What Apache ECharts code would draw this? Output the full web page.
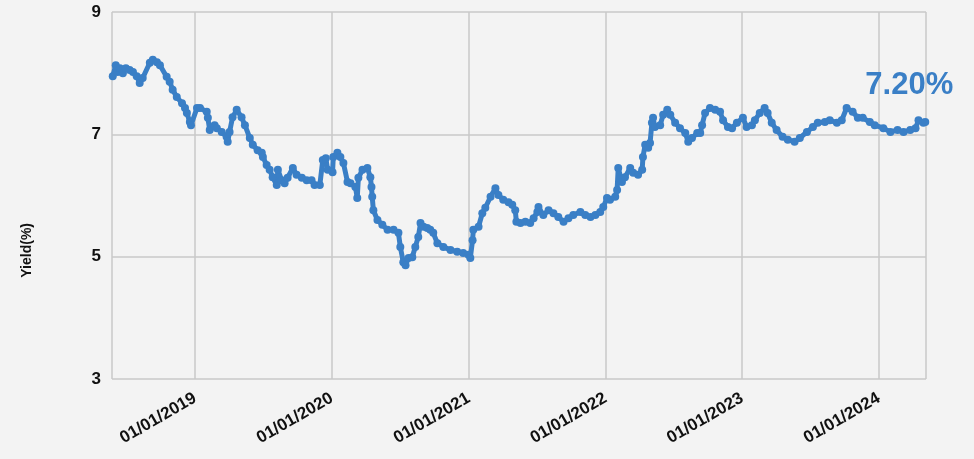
<!DOCTYPE html>
<html>
<head>
<meta charset="utf-8">
<script src="https://cdn.jsdelivr.net/npm/echarts@6/dist/echarts.min.js"></script>
<style>
html,body{margin:0;padding:0;background:#f3f3f3;}
#chart{width:974px;height:459px;}
</style>
</head>
<body>
<div id="chart"></div>
<script>
const dates = [
'2018-05-26','2018-06-03','2018-06-08','2018-06-14','2018-06-22','2018-06-30','2018-07-10','2018-07-19','2018-07-29','2018-08-06',
'2018-08-14','2018-09-02','2018-09-10','2018-09-21','2018-09-29','2018-10-17','2018-10-25','2018-11-02','2018-11-13','2018-11-27',
'2018-12-05','2018-12-10','2018-12-18','2018-12-21',
'2019-01-06','2019-01-14','2019-02-01','2019-02-04','2019-02-09','2019-02-22','2019-02-28','2019-03-13','2019-03-26','2019-03-29',
'2019-04-03','2019-04-11','2019-04-22','2019-05-05','2019-05-14','2019-05-27','2019-06-04','2019-06-17','2019-06-28','2019-07-01',
'2019-07-11','2019-07-19','2019-07-27','2019-08-07','2019-08-10','2019-08-20','2019-08-28','2019-09-05','2019-09-19','2019-09-29',
'2019-10-13','2019-10-26','2019-11-08','2019-11-16','2019-11-30','2019-12-08','2019-12-16','2019-12-21',
'2020-01-03','2020-01-05','2020-01-16','2020-01-24','2020-02-01','2020-02-12','2020-02-20','2020-03-04','2020-03-09','2020-03-12',
'2020-03-23','2020-04-05','2020-04-13','2020-04-16','2020-04-18','2020-04-21','2020-05-02','2020-05-15','2020-05-29','2020-06-14',
'2020-06-27','2020-07-02','2020-07-10','2020-07-16','2020-07-24','2020-08-03','2020-08-11','2020-08-19','2020-08-25','2020-09-02',
'2020-09-12','2020-09-20','2020-09-28','2020-10-09','2020-10-25','2020-11-13','2020-12-01','2020-12-17','2020-12-31',
'2021-01-05','2021-01-11','2021-01-13','2021-01-27','2021-02-06','2021-02-14','2021-02-28','2021-03-13','2021-03-21','2021-04-03',
'2021-04-17','2021-04-27','2021-05-05','2021-05-08','2021-05-19','2021-06-01','2021-06-14','2021-06-23','2021-07-03','2021-07-06',
'2021-07-19','2021-08-02','2021-08-15','2021-08-28','2021-09-11','2021-09-24','2021-10-07','2021-10-26','2021-11-08','2021-11-22',
'2021-12-05','2021-12-18','2021-12-26',
'2022-01-05','2022-01-13','2022-01-27','2022-02-01','2022-02-04','2022-02-14','2022-02-22','2022-03-08','2022-03-16','2022-03-29',
'2022-04-09','2022-04-11','2022-04-17','2022-04-25','2022-04-30','2022-05-05','2022-05-08','2022-05-13','2022-05-27','2022-06-04',
'2022-06-15','2022-06-23','2022-07-06','2022-07-19','2022-08-02','2022-08-10','2022-08-20','2022-09-03','2022-09-11','2022-09-16',
'2022-09-24','2022-10-07','2022-10-21','2022-11-03','2022-11-11','2022-11-24','2022-12-05','2022-12-18',
'2023-01-03','2023-01-13','2023-01-27','2023-02-04','2023-02-17','2023-03-02','2023-03-10','2023-03-21','2023-04-03','2023-04-19',
'2023-05-03','2023-05-21','2023-06-04','2023-06-23','2023-07-09','2023-07-22','2023-08-10','2023-08-23','2023-09-11','2023-09-24',
'2023-10-07','2023-10-23','2023-11-06','2023-11-19','2023-12-08','2023-12-21',
'2024-01-13','2024-02-01','2024-02-20','2024-03-07','2024-03-25','2024-04-08','2024-04-16','2024-04-29','2024-05-04'
];
const yields = [
7.95,8.13,8.02,8.08,8.00,8.08,8.05,8.02,7.95,7.84,
7.92,8.17,8.22,8.18,8.13,7.94,7.86,7.73,7.61,7.51,
7.43,7.35,7.20,7.15,
7.43,7.43,7.37,7.27,7.07,7.15,7.10,7.04,6.96,6.88,
7.04,7.28,7.40,7.28,7.15,6.94,6.83,6.74,6.70,6.63,
6.50,6.42,6.30,6.17,6.42,6.25,6.20,6.29,6.45,6.34,
6.29,6.25,6.25,6.17,6.17,6.58,6.61,6.42,
6.38,6.63,6.70,6.63,6.53,6.22,6.20,6.14,5.96,6.29,
6.42,6.45,6.30,6.14,5.98,5.76,5.60,5.52,5.44,5.44,
5.39,5.16,4.91,4.86,4.98,4.99,5.16,5.32,5.55,5.49,
5.47,5.44,5.39,5.22,5.16,5.11,5.08,5.06,5.03,
4.98,5.27,5.44,5.49,5.71,5.80,5.98,6.12,6.01,5.93,
5.89,5.85,5.76,5.57,5.55,5.57,5.55,5.63,5.73,5.81,
5.68,5.76,5.71,5.65,5.57,5.63,5.68,5.73,5.68,5.65,
5.68,5.73,5.81,
5.96,5.93,5.98,6.09,6.45,6.22,6.30,6.45,6.37,6.34,
6.42,6.63,6.83,6.78,6.86,7.19,7.27,7.12,7.15,7.32,
7.40,7.32,7.19,7.10,7.02,6.88,6.94,7.02,7.02,7.15,
7.35,7.43,7.40,7.37,7.23,7.12,7.10,7.19,
7.27,7.12,7.15,7.23,7.35,7.43,7.35,7.19,7.07,6.96,
6.91,6.88,6.94,7.04,7.12,7.19,7.20,7.23,7.19,7.23,
7.43,7.37,7.27,7.27,7.20,7.15,
7.10,7.04,7.07,7.04,7.07,7.10,7.23,7.19,7.20
];
const yTicks = [3, 5, 7, 9];
const lastLabel = '7.20%';
const lineColor = '#3a7fc6';

const seriesData = dates.map((d, i) => {
  const item = { value: [d, yields[i]] };
  if (i === dates.length - 1) {
    item.label = {
      show: true,
      formatter: lastLabel,
      position: 'top',
      distance: 17,
      offset: [-16, 0],
      color: lineColor,
      fontSize: 31,
      fontWeight: 'bold',
      fontFamily: 'Liberation Sans'
    };
  }
  return item;
});

const chart = echarts.init(document.getElementById('chart'), null, { renderer: 'canvas' });
chart.setOption({
  backgroundColor: '#f3f3f3',
  animation: false,
  grid: { left: 112, right: 48, top: 12, bottom: 80 },
  graphic: [{
    type: 'text',
    left: 20,
    top: 223,
    rotation: Math.PI / 2,
    style: {
      text: 'Yield(%)',
      fontSize: 14,
      fontWeight: 'bold',
      fontFamily: 'Liberation Sans',
      fill: '#111'
    }
  }],
  xAxis: {
    type: 'time',
    min: '2018-05-24',
    max: '2024-05-06',
    minInterval: 365 * 24 * 3600 * 1000,
    maxInterval: 366 * 24 * 3600 * 1000,
    axisLine: { show: false },
    axisTick: { show: false },
    splitLine: { show: true, lineStyle: { color: '#c8c8c8', width: 1.5 } },
    axisLabel: {
      formatter: '{dd}/{MM}/{yyyy}',
      rotate: 30,
      margin: 18,
      color: '#111',
      fontSize: 17,
      fontWeight: 'bold',
      fontFamily: 'Liberation Sans',
      showMinLabel: false,
      showMaxLabel: false
    }
  },
  yAxis: {
    type: 'value',
    min: yTicks[0],
    max: yTicks[yTicks.length - 1],
    interval: 2,
    axisLine: { show: false },
    axisTick: { show: false },
    splitLine: { show: true, lineStyle: { color: '#c8c8c8', width: 1.5 } },
    axisLabel: {
      margin: 11,
      color: '#111',
      fontSize: 17,
      fontWeight: 'bold',
      fontFamily: 'Liberation Sans'
    }
  },
  series: [{
    type: 'line',
    data: seriesData,
    symbol: 'circle',
    symbolSize: 8,
    showAllSymbol: true,
    lineStyle: { color: lineColor, width: 5 },
    itemStyle: { color: lineColor }
  }]
});
</script>
</body>
</html>
